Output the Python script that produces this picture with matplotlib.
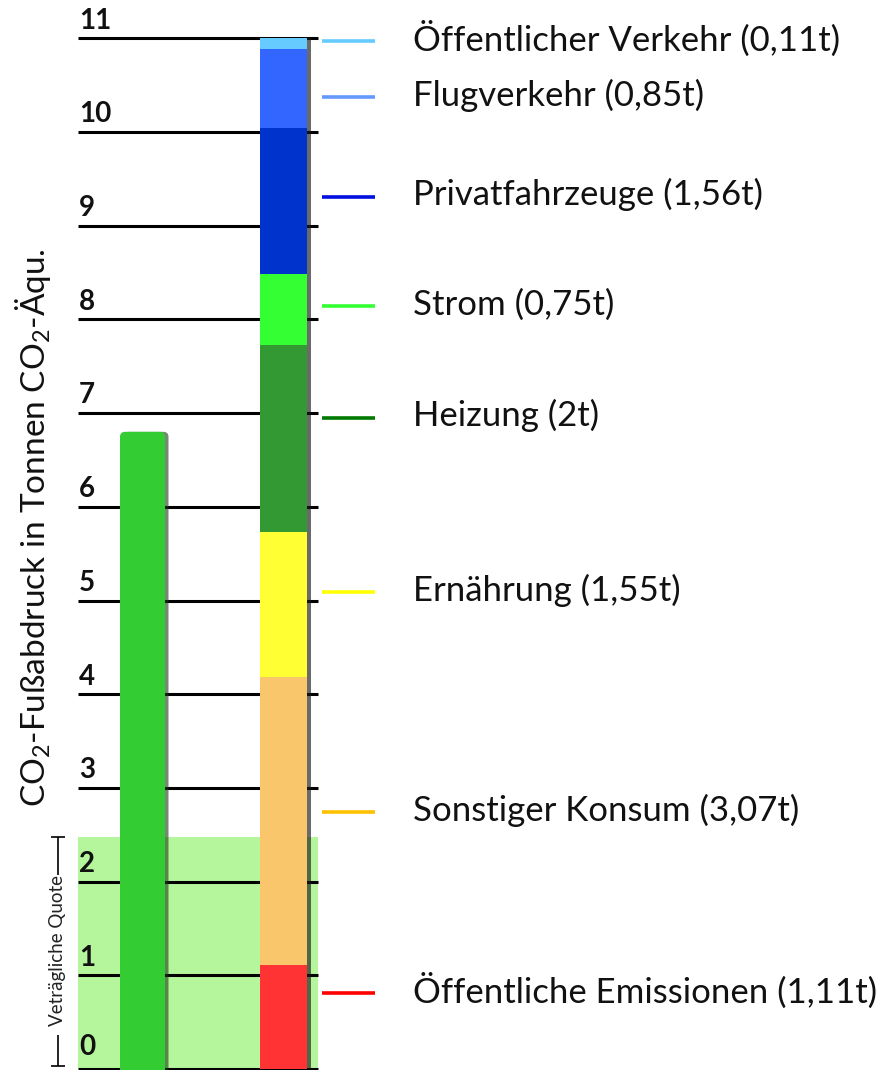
import matplotlib
matplotlib.use("Agg")
import matplotlib.pyplot as plt
from matplotlib.patches import FancyBboxPatch

plt.rcParams['font.family'] = ['Lato', 'DejaVu Sans']
plt.rcParams['mathtext.fontset'] = 'custom'
plt.rcParams['mathtext.rm'] = 'Lato'
plt.rcParams['mathtext.it'] = 'Lato'

# Daten (Tonnen CO2-Äquivalent pro Kopf)
kategorien = ["Öffentliche Emissionen", "Sonstiger Konsum", "Ernährung", "Heizung",
              "Strom", "Privatfahrzeuge", "Flugverkehr", "Öffentlicher Verkehr"]
werte = [1.11, 3.07, 1.55, 2.0, 0.75, 1.56, 0.85, 0.11]
wert_labels = ["1,11t", "3,07t", "1,55t", "2t", "0,75t", "1,56t", "0,85t", "0,11t"]
vertraeglich_wert = 6.8      # linker Balken
quote = 2.48                 # verträgliche Quote (Band)
ticks = list(range(0, 12))

# Layout / Stil
seg_farben = ["#ff3333", "#f9c66b", "#ffff33", "#339933", "#33ff33", "#0033cc", "#3366ff", "#66ccff"]
linien_farben = ["#ff0000", "#ffc000", "#ffff00", "#007a00", "#33ff33", "#0010e0", "#6699ff", "#66ccff"]
label_y = [0.81, 2.74, 5.09, 6.95, 8.14, 9.31, 10.37, 10.97]

px0, ppu = 1069, 93.7   # Pixel der Nulllinie, Pixel pro Tonne

fig = plt.figure(figsize=(8.88, 10.7), dpi=100)
ax = fig.add_axes([0, 0, 1, 1])
ax.set_xlim(0, 888)
ax.set_ylim((px0 - 1070) / ppu, px0 / ppu)
ax.axis('off')

# hellgrünes Band der verträglichen Quote
ax.bar(198, quote, width=240, color="#b5f59c", zorder=1)

# Gitterlinien
for t in ticks:
    ax.hlines(t, 78, 318, color="black", lw=2.2, zorder=2)
    ax.text(79, t + (0.1 if t == 0 else 0.05), str(t), fontsize=20, fontweight='bold',
            color="#111111", va='bottom', ha='left', zorder=3)

# linker Balken mit Schatten, oben abgerundet
schatten = ax.bar(146, vertraeglich_wert, width=45, color="#1a3a1a", alpha=0.6, zorder=3)[0]
balken = ax.bar(142.5, vertraeglich_wert, width=45, color="#33cc33", zorder=4)[0]
for b, fc, a in [(schatten, "#1a3a1a", 0.6), (balken, "#33cc33", 1.0)]:
    b.set_visible(False)
    r = FancyBboxPatch((b.get_x(), -1), b.get_width(), b.get_height() + 1,
                       boxstyle="round,pad=0,rounding_size=5",
                       mutation_aspect=1 / ppu, fc=fc, ec="none", alpha=a, zorder=b.get_zorder())
    ax.add_patch(r)

# gestapelter rechter Balken
ax.bar(287, sum(werte), width=47, color="#1a1a1a", alpha=0.65, zorder=3)
unten = 0
for w, f in zip(werte, seg_farben):
    ax.bar(283.5, w, bottom=unten, width=47, color=f, zorder=4)
    unten += w

# Legendenlinien und Beschriftungen
for k, wl, lf, ly in zip(kategorien, wert_labels, linien_farben, label_y):
    ax.hlines(ly, 322, 375, color=lf, lw=2.6, zorder=5)
    ax.text(413, ly + 0.02, f"{k} ({wl})", fontsize=25, va='center', ha='left', color="#111111")

# Achsenbeschriftung
ax.text(33, (px0 - 528) / ppu, r"CO$_2$-Fußabdruck in Tonnen CO$_2$-Äqu.", rotation=90,
        fontsize=24, va='center', ha='center', color="#111111")

# Klammer "Veträgliche Quote"
ax.text(58, quote / 2 + 0.03, "Veträgliche Quote", rotation=90, fontsize=13.5,
        va='center', ha='center', color="#222222")
ax.vlines(58, 0.03, 0.36, color="black", lw=1.2)
ax.vlines(58, 2.07, quote, color="black", lw=1.2)
ax.hlines([0.03, quote], 51, 65, color="black", lw=1.2)

fig.savefig("out.png", dpi=100)
